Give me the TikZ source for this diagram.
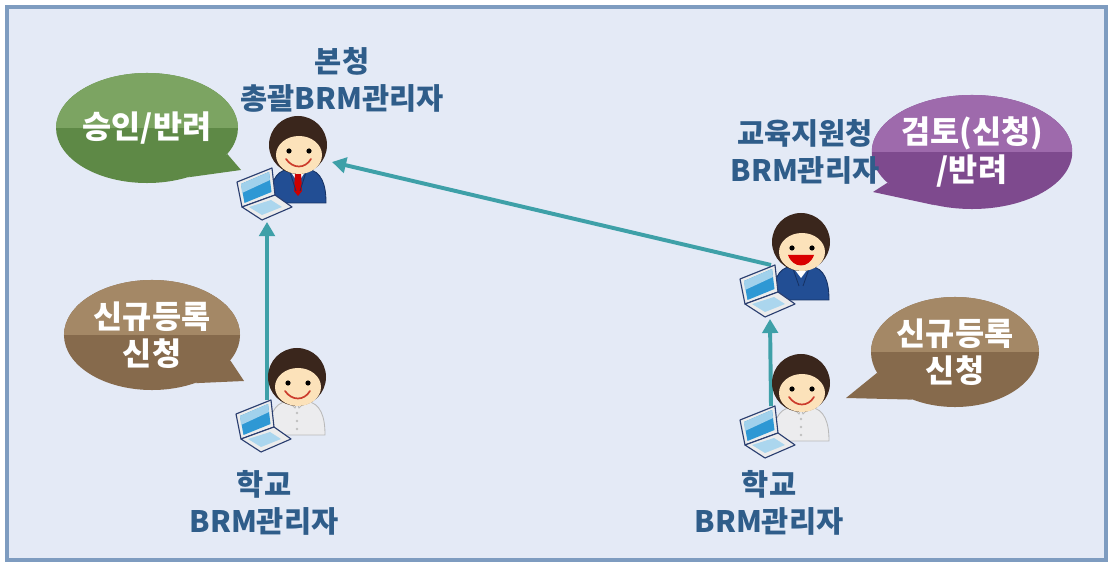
\documentclass[tikz,border=0pt]{standalone}
\usepackage{fontspec}
\setmainfont{Noto Sans CJK KR}
\usetikzlibrary{shapes.geometric,arrows.meta,backgrounds}

\definecolor{frameblue}{RGB}{126,156,192}
\definecolor{paper}{RGB}{228,234,246}
\definecolor{labelblue}{RGB}{47,93,138}
\definecolor{flowteal}{RGB}{62,160,168}
\definecolor{greenA}{RGB}{124,164,98}  \definecolor{greenB}{RGB}{94,137,70}
\definecolor{purpleA}{RGB}{158,106,172} \definecolor{purpleB}{RGB}{126,74,142}
\definecolor{brownA}{RGB}{164,136,102}  \definecolor{brownB}{RGB}{134,106,76}
\definecolor{hair}{RGB}{58,38,28}
\definecolor{skin}{RGB}{252,226,186}
\definecolor{suit}{RGB}{34,78,148}
\definecolor{suitdark}{RGB}{22,50,100}
\definecolor{shirt}{RGB}{236,236,238}
\definecolor{screen}{RGB}{46,152,212}
\definecolor{lapedge}{RGB}{42,62,112}
\definecolor{mouth}{RGB}{204,60,44}

\tikzset{
  role/.style={text=labelblue,font=\bfseries\fontsize{21}{26.5}\selectfont,align=center},
  bubble/.style={ellipse,inner sep=0pt,text=white,font=\bfseries\fontsize{22.5}{26.5}\selectfont,align=center,fill=#1B,
    path picture={\fill[#1A] (path picture bounding box.north west) rectangle (path picture bounding box.east);}},
  flow/.style={draw=flowteal,line width=2.8pt,-{Triangle[length=10pt,width=11pt]}},
  % laptop in front of the figure, local origin = head centre
  laptop/.pic={
    \filldraw[fill=gray!15,draw=lapedge,line width=.8pt,line join=round] (-61,37) -- (-26,23) -- (-23,50) -- (-56,62) -- cycle;
    \fill[screen] (-57,39) -- (-29,27) -- (-26.5,47) -- (-53.5,58) -- cycle;
    \fill[screen!45!white] (-57,39) -- (-29,27) -- (-28,35) -- (-56,48) -- cycle;
    \filldraw[fill=gray!15,draw=lapedge,line width=.8pt,line join=round] (-56,62) -- (-36,75) -- (-6,62) -- (-23,50) -- cycle;
    \fill[screen!40!white] (-49,62) -- (-36,70) -- (-16,62) -- (-27,55) -- cycle;
  },
  head/.pic={
    \fill[hair] (0,0) circle (29);
    \fill[skin] (1,10) ellipse (23 and 19);
    \fill (-9,6) circle (2.6); \fill (11,6) circle (2.6);
  },
  boss/.pic={
    \filldraw[fill=suit,draw=suitdark,line width=.6pt] (-9,24) .. controls (-24,26) and (-28,40) .. (-28,58) -- (28,58) .. controls (28,40) and (24,26) .. (9,24) -- cycle;
    \fill[white] (-9,24) -- (0,38) -- (9,24) -- cycle;
    \fill[red!80!black] (-3,27) -- (3,27) -- (4,46) -- (0,51) -- (-4,46) -- cycle;
    \draw[suitdark,line width=.6pt] (-9,24) -- (-2,46) (9,24) -- (2,46);
    \pic {head}; \draw[mouth,line width=1.2pt,line cap=round] (-12,14) .. controls (-5,24) and (7,24) .. (13,14);
    \pic {laptop};
    \coordinate (-lap) at (-30,23); \coordinate (-in) at (-31,77); \coordinate (-side) at (34,17);
  },
  officer/.pic={
    \filldraw[fill=suit,draw=suitdark,line width=.6pt] (-9,24) .. controls (-24,26) and (-28,40) .. (-28,58) -- (28,58) .. controls (28,40) and (24,26) .. (9,24) -- cycle;
    \fill[white] (-9,24) -- (0,36) -- (9,24) -- cycle;
    \draw[suitdark,line width=.6pt] (-9,24) -- (-2,44) (9,24) -- (2,44);
    \pic {head}; \fill[red!85!black] (-13,13) .. controls (-8,27) and (8,27) .. (13,13) -- cycle;
    \pic {laptop};
    \coordinate (-lap) at (-30,23); \coordinate (-in) at (-31,77);
  },
  clerk/.pic={
    \filldraw[fill=shirt,draw=gray!55,line width=.6pt] (-9,24) .. controls (-24,26) and (-28,40) .. (-28,58) -- (28,58) .. controls (28,40) and (24,26) .. (9,24) -- cycle;
    \draw[gray!55,line width=.6pt] (-9,24) -- (-2,31) -- (0,26) -- (2,31) -- (9,24);
    \foreach \y in {36,44,52} \fill[gray!50] (0,\y) circle (1.3);
    \pic {head}; \draw[mouth,line width=1.2pt,line cap=round] (-12,14) .. controls (-5,24) and (7,24) .. (13,14);
    \pic {laptop};
    \coordinate (-lap) at (-30,23);
  },
}

\begin{document}
\begin{tikzpicture}[x=0.025cm,y=-0.025cm]
  \useasboundingbox (0,0) rectangle (1112,563);
  \begin{scope}[on background layer]
    \filldraw[fill=paper,draw=frameblue,line width=2.2pt] (7,7) rectangle (1106,560);
  \end{scope}

  % people
  \pic (hq) at (298,145) {boss};
  \pic (office) at (801,242) {officer};
  \pic (schoolA) at (297,377) {clerk};
  \pic (schoolB) at (801,383) {clerk};

  % speech bubbles
  \node[bubble=green,minimum width=4.5cm,minimum height=2.75cm] (ok) at (147,128) {승인/반려};
  \fill[greenB] (ok.-18) -- (241,170) -- (ok.-50) -- cycle;
  \node[bubble=purple,minimum width=4.65cm,minimum height=2.85cm] (rev) at (972,152) {검토(신청)\\/반려};
  \fill[purpleB] (rev.200) -- (873,192) -- (rev.235) -- cycle;
  \node[bubble=brown,minimum width=4.4cm,minimum height=2.75cm] (reqA) at (152,335) {신규등록\\신청};
  \fill[brownB] (reqA.-18) -- (244,381) -- (reqA.-48) -- cycle;
  \node[bubble=brown,minimum width=4.2cm,minimum height=2.75cm] (reqB) at (955,352) {신규등록\\신청};
  \fill[brownB] (reqB.195) -- (846,398) -- (reqB.228) -- cycle;

  \node[role] (hqname) at (342,80) {본청\\총괄BRM관리자};
  \node[role] (officename) at (805,152) {교육지원청\\BRM관리자};
  \node[role] (schoolAname) at (264,503) {학교\\BRM관리자};
  \node[role] (schoolBname) at (769,503) {학교\\BRM관리자};

  \begin{scope}[on background layer]
    \draw[flow] (schoolA-lap) -- (hq-in);
    \draw[flow] (office-lap) -- (hq-side);
    \draw[flow] (schoolB-lap) -- (office-in);
  \end{scope}
\end{tikzpicture}
\end{document}
